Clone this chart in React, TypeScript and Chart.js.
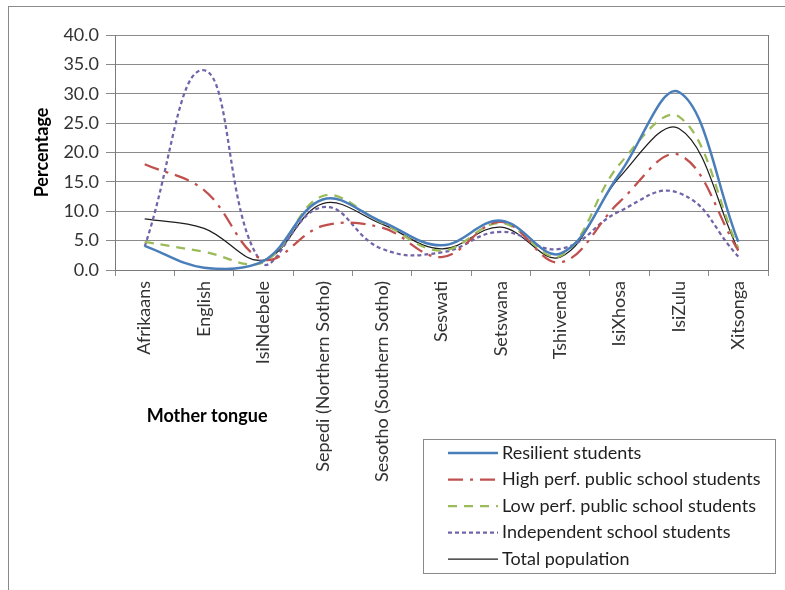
import React, { useEffect, useRef } from 'react';
import { Chart, registerables } from 'chart.js';

Chart.register(...registerables);

const categories = [
  'Afrikaans',
  'English',
  'IsiNdebele',
  'Sepedi (Northern Sotho)',
  'Sesotho (Southern Sotho)',
  'Seswati',
  'Setswana',
  'Tshivenda',
  'IsiXhosa',
  'IsiZulu',
  'Xitsonga',
];

const resilient = [4.1, 0.4, 1.5, 12.0, 8.2, 4.2, 8.4, 2.8, 16.4, 30.3, 4.8];
const highPerf = [18.0, 13.6, 1.8, 7.5, 7.2, 2.2, 8.2, 1.3, 11.6, 19.6, 3.3];
const lowPerf = [4.8, 3.1, 1.3, 12.6, 8.0, 3.3, 8.0, 2.4, 18.0, 26.1, 3.7];
const independent = [4.0, 34.0, 0.9, 10.7, 3.6, 3.0, 6.5, 3.6, 10.0, 13.1, 2.3];
const total = [8.7, 7.1, 1.7, 11.3, 7.8, 3.6, 7.3, 2.2, 15.8, 24.1, 3.4];

const seriesNames = [
  'Resilient students',
  'High perf. public school students',
  'Low perf. public school students',
  'Independent school students',
  'Total population',
];

const yMin = 0;
const yMax = 40;
const yStep = 5;

const FONT = 'Lato, "Open Sans", sans-serif';

const styles = [
  { color: '#4A7EBB', width: 2.5, dash: [] as number[], tension: 0.38 },
  { color: '#C0504D', width: 2.25, dash: [15, 7, 3, 7], tension: 0.38 },
  { color: '#9BBB59', width: 2.25, dash: [9, 7], tension: 0.38 },
  { color: '#7264A8', width: 2.25, dash: [4, 3], tension: 0.45 },
  { color: '#1e1e1e', width: 1.25, dash: [] as number[], tension: 0.38 },
];

const seriesData = [resilient, highPerf, lowPerf, independent, total];

const decorPlugin = {
  id: 'decor',
  beforeDraw(chart: any) {
    const ctx = chart.ctx;
    ctx.save();
    ctx.fillStyle = '#ffffff';
    ctx.fillRect(0, 0, chart.width, chart.height);
    ctx.strokeStyle = '#8a8a8a';
    ctx.lineWidth = 1;
    ctx.strokeRect(8.5, 6.5, chart.width + 20, chart.height + 20);
    ctx.restore();
  },
  afterDraw(chart: any) {
    const ctx = chart.ctx;
    const a = chart.chartArea;
    ctx.save();
    // plot area right border
    ctx.strokeStyle = '#7a7a7a';
    ctx.lineWidth = 1;
    ctx.beginPath();
    ctx.moveTo(Math.round(a.right) + 0.5, a.top);
    ctx.lineTo(Math.round(a.right) + 0.5, a.bottom);
    ctx.stroke();

    // x axis title
    const xs = chart.scales.x;
    ctx.fillStyle = '#000000';
    ctx.font = `bold 18px ${FONT}`;
    ctx.textAlign = 'left';
    ctx.textBaseline = 'middle';
    ctx.fillText('Mother tongue', xs.getPixelForValue(0) + 2, 416);

    // legend
    const lx = 423;
    const ly = 439;
    const lw = 352;
    const lh = 134;
    ctx.fillStyle = '#ffffff';
    ctx.fillRect(lx, ly, lw, lh);
    ctx.strokeStyle = '#8a8a8a';
    ctx.strokeRect(lx + 0.5, ly + 0.5, lw, lh);
    const rowY0 = 453;
    const rowGap = 26.5;
    ctx.font = `18px ${FONT}`;
    ctx.textBaseline = 'middle';
    seriesNames.forEach((name, i) => {
      const y = rowY0 + i * rowGap;
      const s = styles[i];
      ctx.save();
      ctx.strokeStyle = s.color;
      ctx.lineWidth = s.width;
      ctx.setLineDash(s.dash);
      ctx.beginPath();
      ctx.moveTo(448, y);
      ctx.lineTo(498, y);
      ctx.stroke();
      ctx.restore();
      ctx.fillStyle = '#1f1f1f';
      ctx.fillText(name, 502, y);
    });
    ctx.restore();
  },
};

export default function App() {
  const ref = useRef<HTMLCanvasElement | null>(null);

  useEffect(() => {
    let chart: Chart | null = null;
    let cancelled = false;
    const make = () => {
      if (cancelled || !ref.current) return;
      chart = new Chart(ref.current, {
        type: 'line',
        data: {
          labels: categories,
          datasets: seriesData.map((d, i) => ({
            label: seriesNames[i],
            data: d,
            borderColor: styles[i].color,
            backgroundColor: styles[i].color,
            borderWidth: styles[i].width,
            borderDash: styles[i].dash,
            pointRadius: 0,
            pointHoverRadius: 0,
            tension: styles[i].tension,
            fill: false,
          })),
        },
        options: {
          animation: false,
          responsive: false,
          maintainAspectRatio: false,
          devicePixelRatio: 1,
          layout: { padding: { left: 0, top: 35, right: 17, bottom: 0 } },
          plugins: {
            legend: { display: false },
            tooltip: { enabled: false },
          },
          scales: {
            x: {
              type: 'category',
              offset: true,
              grid: {
                offset: true,
                drawOnChartArea: false,
                drawTicks: true,
                tickLength: 6,
                tickColor: '#8a8a8a',
                color: '#8a8a8a',
              },
              border: { display: true, color: '#7a7a7a', width: 1 },
              ticks: {
                autoSkip: false,
                maxRotation: 90,
                minRotation: 90,
                padding: 5,
                color: '#333333',
                font: { family: FONT, size: 18 },
              },
              afterFit: (scale: any) => {
                scale.height = 320;
              },
            },
            y: {
              min: yMin,
              max: yMax,
              ticks: {
                stepSize: yStep,
                padding: 7,
                color: '#333333',
                font: { family: FONT, size: 18 },
                callback: (v: any) => Number(v).toFixed(1),
              },
              grid: {
                color: '#8a8a8a',
                tickColor: '#8a8a8a',
                tickLength: 9,
                lineWidth: 1,
              },
              border: { display: true, color: '#7a7a7a', width: 1 },
              title: {
                display: true,
                text: 'Percentage',
                color: '#000000',
                font: { family: FONT, size: 18, weight: 'bold' },
                padding: { top: 31, bottom: 0 },
              },
              afterFit: (scale: any) => {
                scale.width = 115;
              },
            },
          },
        },
        plugins: [decorPlugin],
      } as any);
    };
    const fontsReady = (document as any).fonts
      ? Promise.all([
          (document as any).fonts.load(`18px Lato`),
          (document as any).fonts.load(`bold 18px Lato`),
        ]).catch(() => null)
      : Promise.resolve(null);
    fontsReady.then(make);
    return () => {
      cancelled = true;
      if (chart) chart.destroy();
    };
  }, []);

  return (
    <div style={{ position: 'fixed', left: 0, top: 0, width: 785, height: 590, background: '#fff' }}>
      <canvas ref={ref} width={785} height={590} style={{ width: 785, height: 590, display: 'block' }} />
    </div>
  );
}
